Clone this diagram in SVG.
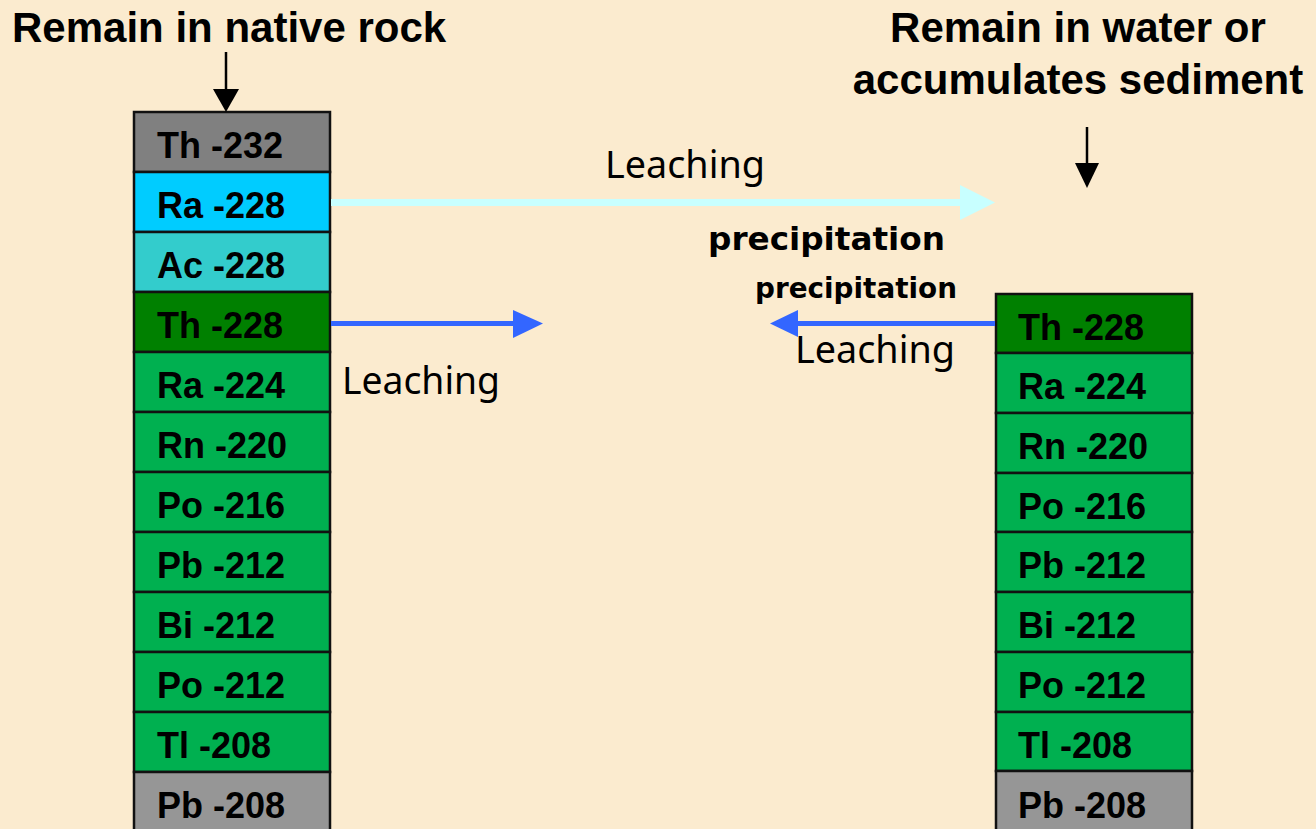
<svg xmlns="http://www.w3.org/2000/svg" width="1316" height="829" viewBox="0 0 1316 829">
<defs>
<style>
.bg{fill:#fbebcf}
.cell{stroke:#111;stroke-width:2.5}
.lbl{font-family:"Liberation Sans",Arial,sans-serif;font-weight:bold;font-size:36px;fill:#000}
.title{font-family:"Liberation Sans",Arial,sans-serif;font-weight:bold;font-size:42px;fill:#000}
.leach{font-family:"Noto Sans","DejaVu Sans",sans-serif;font-size:39px;fill:#000}
.prec{font-family:"DejaVu Sans",sans-serif;font-weight:bold;fill:#000}
.gray{fill:#808080}.ra{fill:#00ccff}.ac{fill:#33cccc}.dg{fill:#008000}.g{fill:#00b050}.lg{fill:#969696}
</style>
</defs>
<rect class="bg" x="0" y="0" width="1316" height="829"/>
<g id="titles">
<text class="title" x="12" y="42">Remain in native rock</text>
<text class="title" x="1078" y="42" text-anchor="middle">Remain in water or</text>
<text class="title" x="1078" y="94" text-anchor="middle">accumulates sediment</text>
</g>
<g id="left-column">
<g id="L-Th232"><rect class="cell gray" x="134" y="112" width="196" height="60"/><text class="lbl" x="157" y="158">Th -232</text></g>
<g id="L-Ra228"><rect class="cell ra" x="134" y="172" width="196" height="60"/><text class="lbl" x="157" y="218">Ra -228</text></g>
<g id="L-Ac228"><rect class="cell ac" x="134" y="232" width="196" height="60"/><text class="lbl" x="157" y="278">Ac -228</text></g>
<g id="L-Th228"><rect class="cell dg" x="134" y="292" width="196" height="60"/><text class="lbl" x="157" y="338">Th -228</text></g>
<g id="L-Ra224"><rect class="cell g" x="134" y="352" width="196" height="60"/><text class="lbl" x="157" y="398">Ra -224</text></g>
<g id="L-Rn220"><rect class="cell g" x="134" y="412" width="196" height="60"/><text class="lbl" x="157" y="458">Rn -220</text></g>
<g id="L-Po216"><rect class="cell g" x="134" y="472" width="196" height="60"/><text class="lbl" x="157" y="518">Po -216</text></g>
<g id="L-Pb212"><rect class="cell g" x="134" y="532" width="196" height="60"/><text class="lbl" x="157" y="578">Pb -212</text></g>
<g id="L-Bi212"><rect class="cell g" x="134" y="592" width="196" height="60"/><text class="lbl" x="157" y="638">Bi -212</text></g>
<g id="L-Po212"><rect class="cell g" x="134" y="652" width="196" height="60"/><text class="lbl" x="157" y="698">Po -212</text></g>
<g id="L-Tl208"><rect class="cell g" x="134" y="712" width="196" height="60"/><text class="lbl" x="157" y="758">Tl -208</text></g>
<g id="L-Pb208"><rect class="cell lg" x="134" y="772" width="196" height="64"/><text class="lbl" x="157" y="818">Pb -208</text></g>
</g>
<g id="right-column">
<g id="R-Th228"><rect class="cell dg" x="996" y="294" width="196" height="59"/><text class="lbl" x="1018" y="340">Th -228</text></g>
<g id="R-Ra224"><rect class="cell g" x="996" y="353" width="196" height="60"/><text class="lbl" x="1018" y="399">Ra -224</text></g>
<g id="R-Rn220"><rect class="cell g" x="996" y="413" width="196" height="60"/><text class="lbl" x="1018" y="459">Rn -220</text></g>
<g id="R-Po216"><rect class="cell g" x="996" y="473" width="196" height="59"/><text class="lbl" x="1018" y="519">Po -216</text></g>
<g id="R-Pb212"><rect class="cell g" x="996" y="532" width="196" height="60"/><text class="lbl" x="1018" y="578">Pb -212</text></g>
<g id="R-Bi212"><rect class="cell g" x="996" y="592" width="196" height="60"/><text class="lbl" x="1018" y="638">Bi -212</text></g>
<g id="R-Po212"><rect class="cell g" x="996" y="652" width="196" height="60"/><text class="lbl" x="1018" y="698">Po -212</text></g>
<g id="R-Tl208"><rect class="cell g" x="996" y="712" width="196" height="59"/><text class="lbl" x="1018" y="758">Tl -208</text></g>
<g id="R-Pb208"><rect class="cell lg" x="996" y="771" width="196" height="65"/><text class="lbl" x="1018" y="818">Pb -208</text></g>
</g>
<g id="connectors">
<line x1="226" y1="52" x2="226" y2="90" stroke="#000" stroke-width="2.5"/>
<polygon points="213,89 239,89 226,112" fill="#000"/>
<line x1="1087" y1="127" x2="1087" y2="164" stroke="#000" stroke-width="2.5"/>
<polygon points="1075,163 1099,163 1087,188" fill="#000"/>
<line x1="331" y1="202.5" x2="962" y2="202.5" stroke="#c8ffff" stroke-width="7"/>
<polygon points="960,185 960,220 995,202.5" fill="#c8ffff"/>
<line x1="331" y1="323.5" x2="515" y2="323.5" stroke="#3366ff" stroke-width="5"/>
<polygon points="513,310 513,338 543,323.5" fill="#3366ff"/>
<line x1="995" y1="323.5" x2="796" y2="323.5" stroke="#3366ff" stroke-width="5"/>
<polygon points="798,310 798,337 770,323.5" fill="#3366ff"/>
</g>
<g id="labels">
<text class="leach" x="605" y="178" textLength="160" lengthAdjust="spacingAndGlyphs">Leaching</text>
<text class="leach" x="342" y="394" textLength="158" lengthAdjust="spacingAndGlyphs">Leaching</text>
<text class="leach" x="795" y="363" textLength="160" lengthAdjust="spacingAndGlyphs">Leaching</text>
<text class="prec" x="708" y="250" font-size="32" textLength="237" lengthAdjust="spacingAndGlyphs">precipitation</text>
<text class="prec" x="755" y="298" font-size="28" textLength="202" lengthAdjust="spacingAndGlyphs">precipitation</text>
</g>
</svg>
